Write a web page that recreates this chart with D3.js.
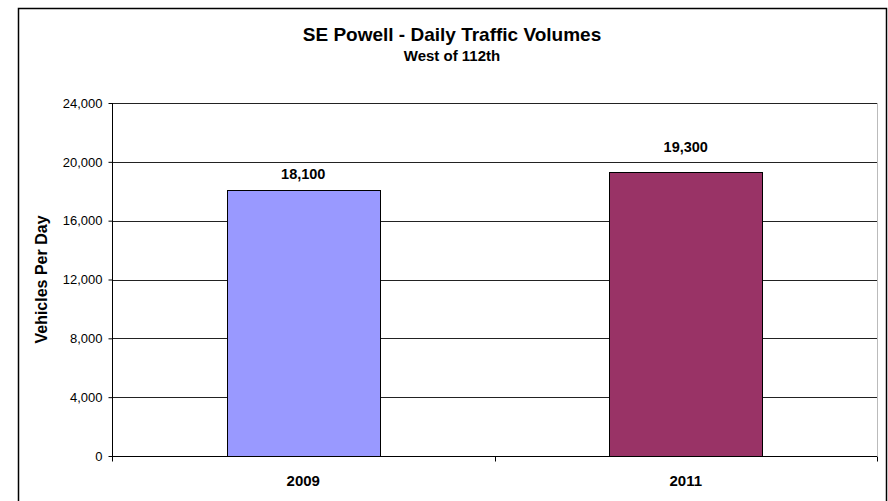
<!DOCTYPE html>
<html>
<head>
<meta charset="utf-8">
<script src="https://cdn.jsdelivr.net/npm/d3@7"></script>
<style>
  body { margin: 0; background: #fff; }
  text { font-family: "Liberation Sans", Arial, sans-serif; fill: #000; }
  .grid line { stroke: #222; stroke-width: 1; }
  .axis path, .axis line { stroke: #000; }
</style>
</head>
<body>
<svg id="chart" width="888" height="501"></svg>
<script>
// data
var years = ['2009', '2011'];
var volumes = [18100, 19300];
var barColors = ['#9999FF', '#993366'];
var yTicks = [0, 4000, 8000, 12000, 16000, 20000, 24000];

var svg = d3.select('#chart');
var plot = { left: 112, right: 877, top: 103, bottom: 456 };
var fmt = d3.format(',');

// chart border
svg.append('rect')
  .attr('x', 18.5).attr('y', 8.5)
  .attr('width', 868).attr('height', 510)
  .attr('fill', '#fff')
  .attr('stroke', '#000')
  .attr('stroke-width', 1.5);

var x = d3.scaleBand()
  .domain(years)
  .range([plot.left, plot.right])
  .paddingInner(0.6)
  .paddingOuter(0.3);

var y = d3.scaleLinear()
  .domain([0, 24000])
  .range([plot.bottom, plot.top]);

// gridlines
svg.append('g')
  .attr('class', 'grid')
  .selectAll('line')
  .data(yTicks.slice(1))
  .enter().append('line')
  .attr('x1', plot.left).attr('x2', plot.right)
  .attr('y1', function(d) { return Math.round(y(d)) + 0.5; })
  .attr('y2', function(d) { return Math.round(y(d)) + 0.5; });

// right edge of plot area
svg.append('line')
  .attr('x1', plot.right + 0.5).attr('x2', plot.right + 0.5)
  .attr('y1', plot.top).attr('y2', plot.bottom)
  .attr('stroke', '#bbb');

// bars
svg.append('g').selectAll('rect')
  .data(volumes)
  .enter().append('rect')
  .attr('x', function(d, i) { return Math.round(x(years[i])) + 0.5; })
  .attr('y', function(d) { return Math.round(y(d)) + 0.5; })
  .attr('width', Math.round(x.bandwidth()))
  .attr('height', function(d) { return plot.bottom - Math.round(y(d)); })
  .attr('fill', function(d, i) { return barColors[i]; })
  .attr('stroke', '#000')
  .attr('stroke-width', 1);

// value labels, lifted above a gridline when they would sit on it
svg.append('g').selectAll('text')
  .data(volumes)
  .enter().append('text')
  .attr('x', function(d, i) { return x(years[i]) + x.bandwidth() / 2; })
  .attr('y', function(d) {
    var base = y(d) - 11;
    var hit = yTicks.filter(function(t) {
      var gy = y(t);
      return gy > base - 11 && gy < base + 3;
    });
    return hit.length ? y(hit[0]) - 10 : base;
  })
  .attr('text-anchor', 'middle')
  .style('font-size', '14.5px')
  .style('font-weight', 'bold')
  .text(function(d) { return fmt(d); });

// y axis
var yAxis = svg.append('g')
  .attr('class', 'axis')
  .attr('transform', 'translate(' + (plot.left + 0.5) + ',0)')
  .call(d3.axisLeft(y).tickValues(yTicks).tickSize(4).tickPadding(6).tickFormat(fmt));
yAxis.select('.domain').attr('d', 'M0,' + plot.top + 'V' + (plot.bottom + 5));
yAxis.selectAll('text').style('font-size', '13px');

// x axis
var xAxis = svg.append('g')
  .attr('class', 'axis')
  .attr('transform', 'translate(0,' + (plot.bottom + 0.5) + ')');
xAxis.append('line')
  .attr('x1', plot.left).attr('x2', plot.right)
  .attr('stroke', '#000');
xAxis.selectAll('.tick')
  .data([plot.left, (plot.left + plot.right) / 2, plot.right])
  .enter().append('line')
  .attr('x1', function(d) { return Math.round(d) + 0.5; })
  .attr('x2', function(d) { return Math.round(d) + 0.5; })
  .attr('y1', 0).attr('y2', 5)
  .attr('stroke', '#000');
xAxis.selectAll('text')
  .data(years)
  .enter().append('text')
  .attr('x', function(d) { return x(d) + x.bandwidth() / 2; })
  .attr('y', 29.5)
  .attr('text-anchor', 'middle')
  .style('font-size', '15px')
  .style('font-weight', 'bold')
  .text(function(d) { return d; });

// titles
svg.append('text')
  .attr('x', 452).attr('y', 41)
  .attr('text-anchor', 'middle')
  .style('font-size', '19px')
  .style('font-weight', 'bold')
  .text('SE Powell - Daily Traffic Volumes');

svg.append('text')
  .attr('x', 452).attr('y', 61)
  .attr('text-anchor', 'middle')
  .style('font-size', '15px')
  .style('font-weight', 'bold')
  .text('West of 112th');

svg.append('text')
  .attr('transform', 'translate(47,' + ((plot.top + plot.bottom) / 2) + ') rotate(-90)')
  .attr('text-anchor', 'middle')
  .style('font-size', '16px')
  .style('font-weight', 'bold')
  .text('Vehicles Per Day');
</script>
</body>
</html>
